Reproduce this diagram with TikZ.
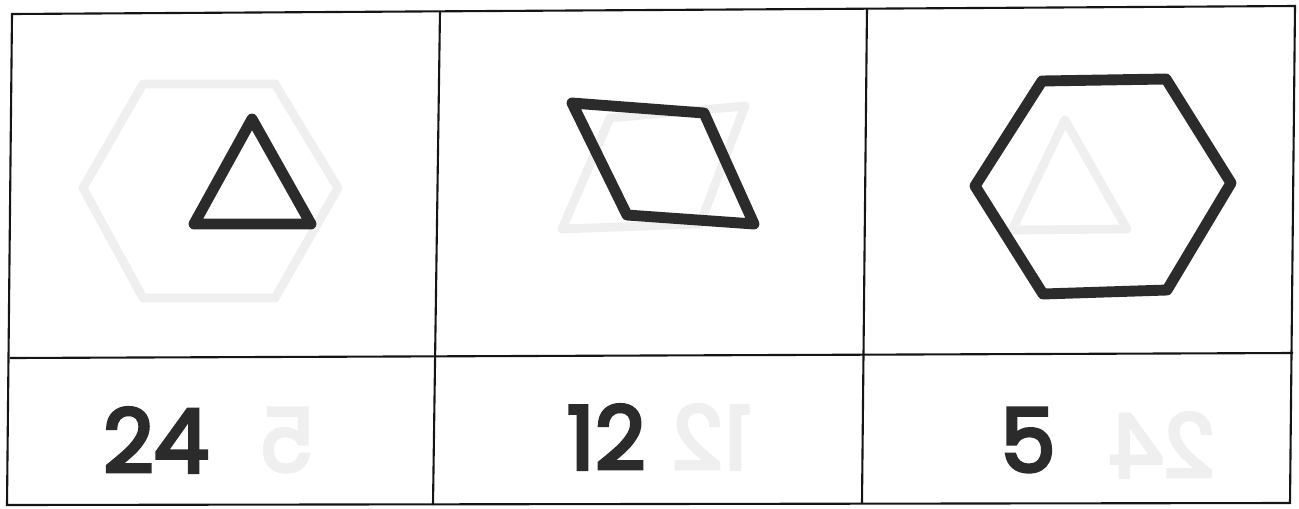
\documentclass[tikz,border=0pt]{standalone}
\usepackage{fontspec}
\setmainfont{Poppins}
\newfontfamily\markerfont{Poppins}[FakeBold=4]
\usepackage{xcolor}
\usetikzlibrary{positioning}

\definecolor{ink}{HTML}{2B2B2B}
\definecolor{grid}{HTML}{151515}
\definecolor{showthru}{HTML}{EFEFEF}

\begin{document}
\begin{tikzpicture}[
    x=0.02cm, y=-0.02cm,
    cellline/.style={draw=grid, line width=1.2pt},
    inkshape/.style={draw=ink, line width=6.2pt, line join=round, line cap=round},
    ghost/.style={draw=showthru, line width=5pt, line join=round, line cap=round},
    numlabel/.style={text=ink, font=\markerfont\fontsize{50}{50}\selectfont, inner sep=0pt},
    ghostnum/.style={numlabel, text=showthru, xscale=-1}
]
\useasboundingbox (0,0) rectangle (1299,508);

% table frame
\draw[cellline] (12,14) -- (1295,6) -- (1290,503) -- (7,505) -- cycle;
\draw[cellline] (10,358) -- (1293,353);
\draw[cellline] (440,11) -- (433,505);
\draw[cellline] (867,8) -- (862,503);

% show-through from the back of the page
\draw[ghost] (143,84) -- (275,84) -- (338,188) -- (275,298) -- (143,298) -- (83,188) -- cycle;
\draw[ghost] (610,118) -- (745,106) -- (700,224) -- (562,229) -- cycle;
\draw[ghost] (1065,120) -- (1127,229) -- (1012,230) -- cycle;
\node[ghostnum] (g5)  at (287,440) {5};
\node[ghostnum] (g12) at (712,437) {12};
\node[ghostnum] (g24) at (1162,445) {24};

% shapes
\draw[inkshape] (252,119) -- (311,224) -- (194,224) -- cycle;
\draw[inkshape] (572,103) -- (704,113) -- (754,224) -- (627,215) -- cycle;
\draw[inkshape] (1042,81) -- (1166,79) -- (1231,183) -- (1167,290) -- (1043,294) -- (975,186) -- cycle;

% numbers
\node[numlabel] (n24) at (156,440) {24};
\node[numlabel] (n12) at (606,437) {12};
\node[numlabel] (n5)  at (1028,440) {5};
\end{tikzpicture}
\end{document}
